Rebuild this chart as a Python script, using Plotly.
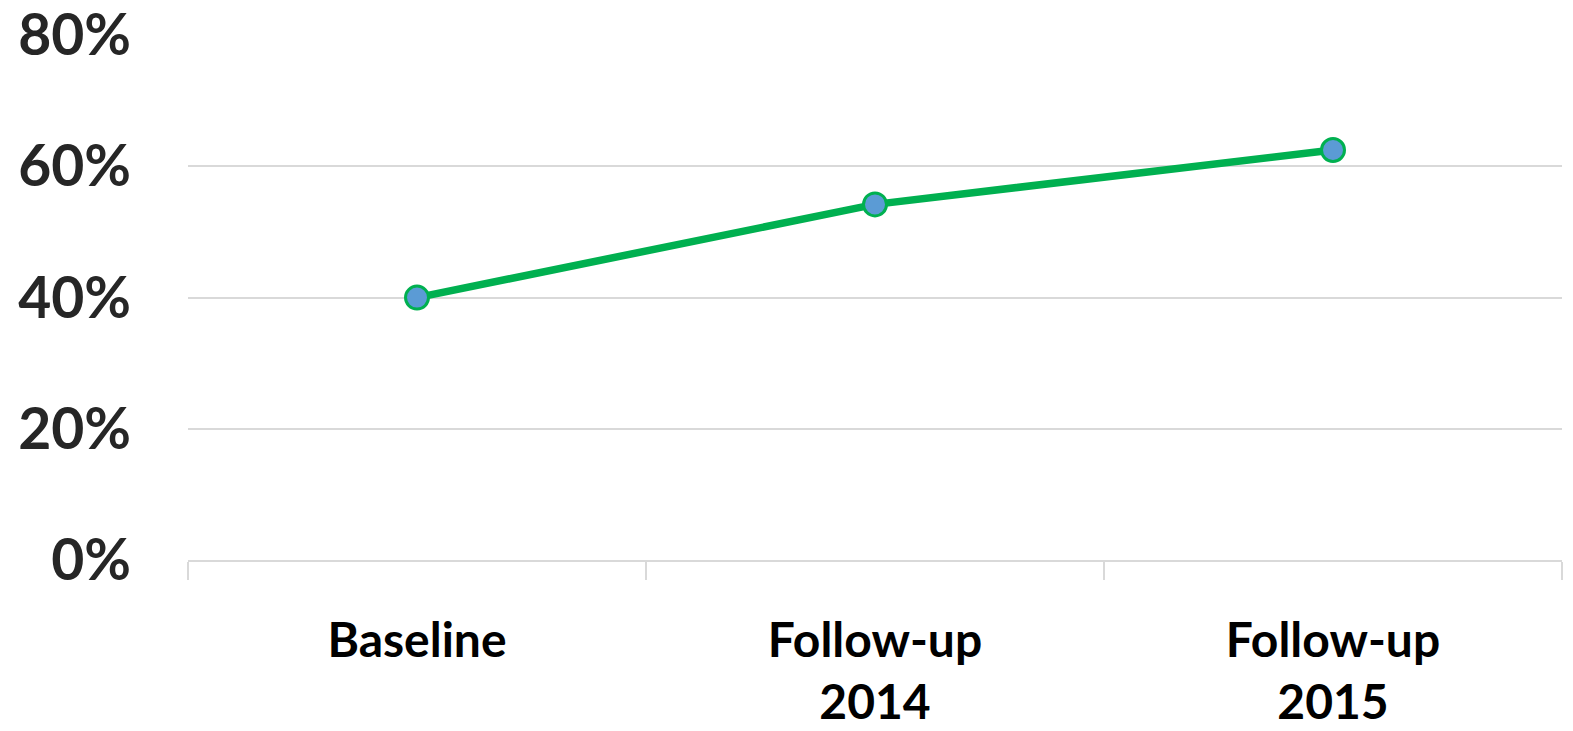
import plotly.graph_objects as go

categories = ["Baseline", "Follow-up<br>2014", "Follow-up<br>2015"]
values = [0.40, 0.542, 0.625]
y_ticks = [0, 0.2, 0.4, 0.6, 0.8]
y_tick_labels = ["0%", "20%", "40%", "60%", "80%"]

fig = go.Figure()
fig.add_trace(go.Scatter(
    x=categories, y=values, mode="lines+markers",
    line=dict(color="#00B050", width=7.5),
    marker=dict(size=23, color="#5B9BD5", line=dict(color="#00B050", width=3)),
    showlegend=False, cliponaxis=False,
))

fig.update_layout(
    width=1573, height=731,
    margin=dict(l=188, r=11, t=35, b=171),
    paper_bgcolor="white", plot_bgcolor="white",
    font=dict(family="Lato", color="#000000"),
)
fig.update_xaxes(
    type="category", range=[-0.5, 2.5], automargin=False,
    showgrid=False, showline=True, linecolor="#D9D9D9", linewidth=2,
    ticks="outside", tickson="boundaries", ticklen=18, tickwidth=2, tickcolor="#D9D9D9",
    tickfont=dict(family="Lato", size=48, color="#000000", weight="bold"),
    ticklabelstandoff=37,
)
fig.update_yaxes(
    range=[0, 0.8002], tickvals=y_ticks, ticktext=y_tick_labels, automargin=False,
    showgrid=True, gridcolor="#D9D9D9", gridwidth=2,
    zeroline=False, showline=False, ticks="",
    tickfont=dict(family="Lato", size=57, color="#262626", weight="bold"),
    ticklabelstandoff=56, ticklabeloverflow="allow",
)

fig.write_html(
    "out.html",
    config={"displayModeBar": False},
    post_script="document.body.style.margin='0px'; document.body.style.overflow='hidden';",
)
